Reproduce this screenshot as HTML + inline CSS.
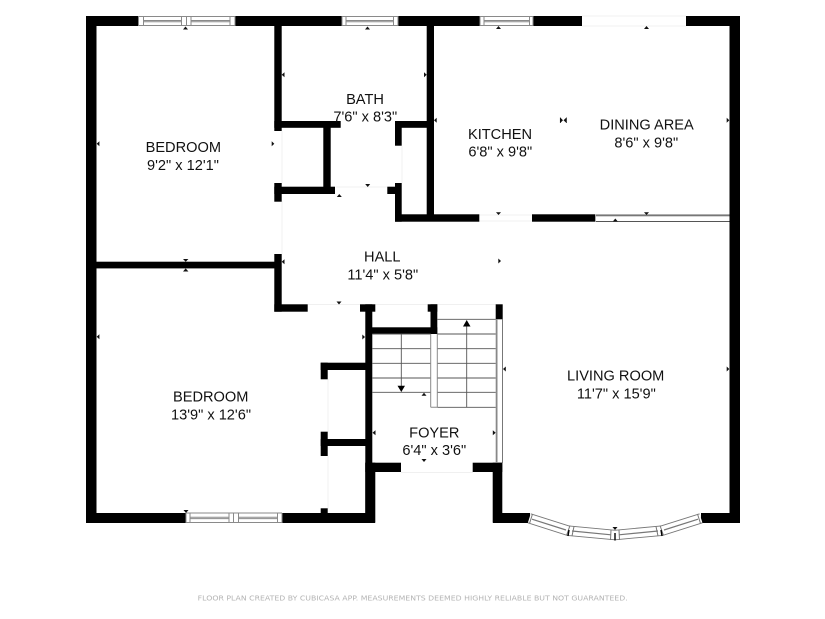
<!DOCTYPE html>
<html>
<head>
<meta charset="utf-8">
<style>
html,body{margin:0;padding:0;background:#fff;width:825px;height:619px;overflow:hidden}
svg{display:block}
text{font-family:"Liberation Sans",sans-serif;font-size:14.6px;fill:#111;text-anchor:middle}
.f{font-family:"DejaVu Sans",sans-serif;font-size:7px;fill:#b4b4b4}
.w{fill:#000}
.g{stroke:#8a8a8a;stroke-width:1;fill:none}
.l{stroke:#555;stroke-width:.9;fill:none}
.x{stroke:#f0f0f0;stroke-width:1;fill:none}
</style>
</head>
<body>
<svg width="825" height="619" viewBox="0 0 825 619" xmlns="http://www.w3.org/2000/svg">
<rect width="825" height="619" fill="#fff"/>

<!-- faint opening lines -->
<path class="x" d="M582 16H686M582 26H686M282 131V183M282 201V254M328 379V432M328 456V509M402 146V183M479 215H532M479 221H532M401 472.500H473M308 304.500H360M375 304.500H428M336 187H387M437 304.500H496"/>

<!-- outer walls -->
<g class="w">
<rect x="86" y="16" width="52.500" height="10"/>
<rect x="235" y="16" width="107" height="10"/>
<rect x="398" y="16" width="82" height="10"/>
<rect x="533" y="16" width="49" height="10"/>
<rect x="686" y="16" width="54" height="10"/>
<rect x="86" y="16" width="10.500" height="507"/>
<rect x="729.500" y="16" width="10.500" height="507"/>
<rect x="86" y="513" width="100" height="10"/>
<rect x="282" y="513" width="93" height="10"/>
<rect x="493" y="513" width="37" height="10"/>
<rect x="701" y="513" width="39" height="10"/>

<!-- bedroom / bath -->
<rect x="274.300" y="26" width="7.400" height="105"/>
<rect x="274.300" y="121" width="66.400" height="6.800"/>
<rect x="323.300" y="121" width="7.400" height="70"/>
<rect x="274.300" y="186.700" width="60.700" height="7.300"/>
<rect x="274.300" y="183" width="7.400" height="18.700"/>
<rect x="395" y="121" width="6.700" height="24.700"/>
<rect x="395" y="121" width="35" height="6.800"/>
<rect x="395" y="183" width="6.700" height="38.700"/>
<rect x="387.300" y="186.700" width="10" height="7.300"/>
<rect x="395" y="214.300" width="84.300" height="7.400"/>
<rect x="426.700" y="26" width="7.300" height="192"/>
<rect x="532" y="214.300" width="63" height="7.400"/>

<!-- bedroom divider -->
<rect x="96" y="261.700" width="185" height="6.700"/>
<rect x="274.300" y="254" width="7.400" height="57.700"/>
<rect x="274.300" y="304.300" width="33.400" height="7.400"/>

<!-- stairs / foyer walls -->
<rect x="360" y="304.300" width="15.300" height="7.400"/>
<rect x="365.300" y="304.300" width="7" height="218"/>
<rect x="365.300" y="462.700" width="10" height="60"/>
<rect x="365.300" y="462.700" width="35.700" height="9.300"/>
<rect x="472.700" y="462.700" width="29.600" height="9.300"/>
<rect x="492.700" y="462.700" width="9.600" height="60"/>
<rect x="372" y="327.300" width="65.300" height="6.700"/>
<rect x="430.500" y="304.300" width="6.800" height="29.700"/>
<rect x="427.700" y="304.300" width="9.600" height="7.400"/>
<rect x="495.700" y="304.300" width="7" height="15"/>

<!-- closets -->
<rect x="320.700" y="362.700" width="45" height="7.300"/>
<rect x="320.700" y="362.700" width="7" height="16.600"/>
<rect x="320.700" y="439" width="45" height="7"/>
<rect x="320.700" y="431.700" width="7" height="24.300"/>
<rect x="320.700" y="508.300" width="7" height="6"/>
</g>

<!-- top windows -->
<g class="g">
<path d="M138.500 16.500H235M138.500 25.500H235M143.500 20.500H181.500M143.500 21.800H181.500M191 20.500H230M191 21.800H230M138.500 16V26M143.500 16V26M181.500 16V26M186.500 16V26M191 16V26M230 16V26M235 16V26"/>
<path d="M342 16.500H398M342 25.500H398M346 20.500H393.500M346 21.800H393.500M342 16V26M346 16V26M393.500 16V26M398 16V26"/>
<path d="M480 16.500H533M480 25.500H533M484 20.500H529.500M484 21.800H529.500M480 16V26M484 16V26M529.500 16V26M533 16V26"/>
<!-- bottom window -->
<path d="M186 513H282M186 522.500H282M190 517.300H229M190 518.600H229M238.500 517.300H277.500M238.500 518.600H277.500M186 513V523M190 513V523M229 513V523M233.500 513V523M238.500 513V523M277.500 513V523M282 513V523"/>
</g>

<!-- slider at dining -->
<rect x="595" y="214.400" width="134.500" height="1.900" fill="#777"/>
<rect x="595" y="221" width="134.500" height="1" fill="#555"/>
<rect x="595" y="214.400" width="1" height="7.600" fill="#aaa"/>

<!-- right stair rail wall -->
<rect x="495.700" y="319" width="1.800" height="144" fill="#888"/>
<rect x="502" y="319" width="1" height="144" fill="#777"/>

<!-- stairs -->
<g class="l">
<path d="M437.300 319.300H495.700M437.300 334H495.700M437.300 348.700H495.700M437.300 363.300H495.700M437.300 378H495.700M437.300 392.300H495.700M437.300 407.300H495.700"/>
<path d="M372.300 334H430.700M372.300 348.700H430.700M372.300 363.300H430.700M372.300 378H430.700M372.300 392.300H430.700"/>
<path d="M401.300 334V387M466.700 325V407.300"/>
</g>
<path class="g" d="M430.700 334V407.300M437.300 334V407.300M430.700 407.300H437.300"/>
<polygon points="397.500,385.700 405,385.700 401.300,392" fill="#000"/>
<polygon points="463,326.500 470.500,326.500 466.700,320" fill="#000"/>

<!-- bow window -->
<g fill="none">
<path d="M529.300 518.300L568.300 530.700L615 535L661.700 530.700L701 518.300" stroke="#777" stroke-width="10.400"/>
<path d="M529.300 518.300L568.300 530.700L615 535L661.700 530.700L701 518.300" stroke="#fff" stroke-width="8.600"/>
<path d="M532 519.200L566 530M572 531L611 534.800M619 534.800L658 531M664 530L698 519.200" stroke="#777" stroke-width="1.200"/>
</g>
<g stroke="#777" stroke-width="1" fill="none">
<path d="M532.500 514L529.500 523.500M570 525.500L566.500 535.500M574 526.500L572 536M611 530L610.500 540M619 530L619.500 540M656 526.500L658 536M660 525.500L663.500 535.500M697.500 514L700.500 523.500"/>
</g>
<g stroke="#000" stroke-width="1.400">
<path d="M569 530L568 536M615 533V540.500M661 530L662 536"/>
</g>

<!-- small markers -->
<g fill="#111">
<!-- up -->
<polygon points="185.500,26.500 183,29.500 188,29.500"/>
<polygon points="367.500,26.500 365,29.500 370,29.500"/>
<polygon points="498.500,26 496,29 501,29"/>
<polygon points="646.500,26 644,29 649,29"/>
<polygon points="339.300,194 336.800,197 341.800,197"/>
<polygon points="615.300,218.500 612.800,221.500 617.800,221.500"/>
<polygon points="424,392.700 421.500,395.800 426.500,395.800"/>
<polygon points="185.700,268.400 183,271.500 188.400,271.500"/>
<!-- down -->
<polygon points="367.700,187 365.200,184 370.200,184"/>
<polygon points="498.500,215 496,212.300 501,212.300"/>
<polygon points="646.500,215 644,212.300 649,212.300"/>
<polygon points="339,304.500 336.500,301.500 341.500,301.500"/>
<polygon points="424,462 421.500,459 426.500,459"/>
<polygon points="186,513 183.500,510 188.500,510"/>
<polygon points="615,530 612.500,527 617.500,527"/>
<polygon points="185.700,261.700 183,259 188.400,259"/>
<!-- left pointing -->
<polygon points="96.700,143.700 99.400,141.200 99.400,146.200"/>
<polygon points="281.700,74.700 284.500,72.200 284.500,77.200"/>
<polygon points="434,120.300 436.700,117.800 436.700,122.800"/>
<polygon points="281.700,261.700 284.500,259.200 284.500,264.200"/>
<polygon points="503,369 505.800,366.500 505.800,371.500"/>
<polygon points="372.500,432.700 375.500,430.200 375.500,435.200"/>
<polygon points="96.700,336.700 99.400,334.200 99.400,339.200"/>
<!-- right pointing -->
<polygon points="274.300,143.700 271.700,141.200 271.700,146.200"/>
<polygon points="426.700,74.700 424,72.200 424,77.200"/>
<polygon points="729.300,120.300 726.700,117.800 726.700,122.800"/>
<polygon points="495.700,432.700 492.800,430.200 492.800,435.200"/>
<polygon points="501,261 498.300,258.500 498.300,263.500"/>
<polygon points="729.300,369 726.700,366.500 726.700,371.500"/>
<polygon points="365,337 362.300,334.500 362.300,339.500"/>
<!-- double at kitchen/dining -->
<polygon points="563,120.300 560.500,117.800 560.500,122.800"/>
<polygon points="563.500,120.300 566.200,117.800 566.200,122.800"/>
</g>
<path d="M560.300 117.500V123M566.500 117.500V123" stroke="#111" stroke-width=".7"/>

<!-- labels -->
<text x="183.300" y="152">BEDROOM</text>
<text x="183" y="170">9'2" x 12'1"</text>
<text x="365" y="104">BATH</text>
<text x="365.300" y="121.700">7'6" x 8'3"</text>
<text x="382.300" y="261.700">HALL</text>
<text x="382.800" y="279.700">11'4" x 5'8"</text>
<text x="500" y="139">KITCHEN</text>
<text x="500.300" y="156.700">6'8" x 9'8"</text>
<text x="646.700" y="129.700">DINING AREA</text>
<text x="646.300" y="147.300">8'6" x 9'8"</text>
<text x="434.300" y="437.300">FOYER</text>
<text x="434.300" y="455">6'4" x 3'6"</text>
<text x="210.700" y="401.700">BEDROOM</text>
<text x="211" y="419.300">13'9" x 12'6"</text>
<text x="615.700" y="380.300">LIVING ROOM</text>
<text x="616.300" y="398.300">11'7" x 15'9"</text>
<text class="f" x="412.700" y="600.700" textLength="430" lengthAdjust="spacingAndGlyphs">FLOOR PLAN CREATED BY CUBICASA APP. MEASUREMENTS DEEMED HIGHLY RELIABLE BUT NOT GUARANTEED.</text>
</svg>
</body>
</html>
